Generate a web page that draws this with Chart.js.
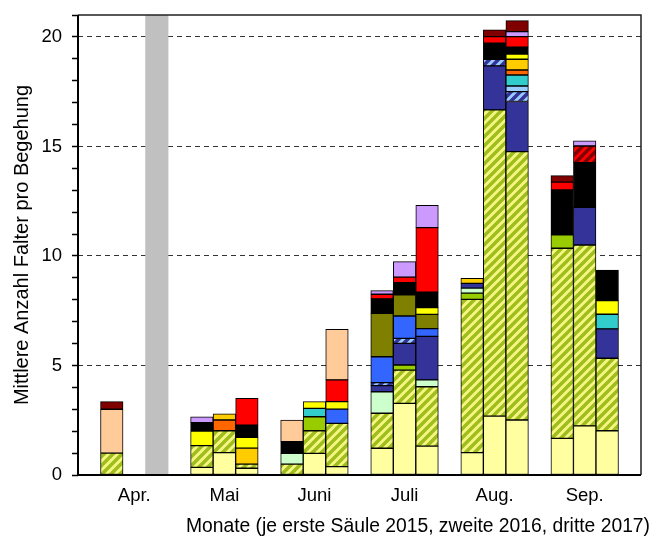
<!DOCTYPE html>
<html><head><meta charset="utf-8">
<script src="https://cdn.jsdelivr.net/npm/chart.js@4.4.1/dist/chart.umd.min.js"></script>
<style>html,body{margin:0;padding:0;background:#fff;}</style>
</head><body>
<canvas id="c" width="663" height="540" style="width:663px;height:540px;display:block"></canvas>
<script>
// Categories
const months = ['Apr.', 'Mai', 'Juni', 'Juli', 'Aug.', 'Sep.'];
const years = ['2015', '2016', '2017'];
const yTickLabels = [0, 5, 10, 15, 20];
const yMax = 21;
const xTitle = 'Monate (je erste Säule 2015, zweite 2016, dritte 2017)';
const yTitle = 'Mittlere Anzahl Falter pro Begehung';

// Values per segment type, order: Apr 15/16/17, Mai 15/16/17, Juni ..., Juli ..., Aug ..., Sep ...
const plain      = [0,0,0,   0.35,1.02,0.31, 0,0.99,0.38,    1.22,3.27,1.32,  1.02,2.69,2.51,   1.67,2.24,2.02];
const hatched    = [1.0,0,0, 0.99,1.0,0.19,  0.5,1.03,1.98,  1.60,1.52,2.71,  7.0,13.98,12.25,  8.68,8.26,3.31];
const lime       = [0,0,0,   0,0,0,          0,0.64,0,       0,0.23,0,        0.28,0,0,         0.61,0,0];
const mint       = [0,0,0,   0,0,0,          0.49,0,0,       0.98,0,0.31,     0.23,0,0,         0,0,0];
const navy       = [0,0,0,   0,0,0,          0,0,0,          0.28,0.99,1.99,  0.22,2.01,2.29,   0,1.72,1.34];
const blueHatch  = [0,0,0,   0,0,0,          0,0,0,          0.14,0.23,0,     0,0.30,0.45,      0,0,0];
const blue       = [0,0,0,   0,0,0,          0,0,0.65,       1.18,1.02,0.35,  0,0,0,            0,0,0];
const lightBlue  = [0,0,0,   0,0,0,          0,0,0,          0,0,0,           0,0,0.26,         0,0,0];
const teal       = [0,0,0,   0,0,0,          0,0.38,0,       0,0,0,           0,0,0.50,         0,0,0.67];
const olive      = [0,0,0,   0,0,0,          0,0,0,          1.98,0.96,0.65,  0,0,0,            0,0,0];
const orange     = [0,0,0,   0,0.49,0,       0,0,0,          0,0,0,           0,0,0.23,         0,0,0];
const gold       = [0,0,0,   0,0.28,0.73,    0,0,0,          0,0,0,           0.23,0,0.49,      0,0,0];
const yellow     = [0,0,0,   0.67,0,0.49,    0,0.31,0.34,    0,0,0.31,        0,0,0.24,         0,0,0.62];
const black      = [0,0,0,   0.38,0,0.56,    0.53,0,0,       0.66,0.56,0.71,  0,0.73,0.31,      2.05,2.04,1.40];
const red        = [0,0,0,   0,0,1.22,       0,0,0.99,       0.21,0.25,2.94,  0,0.30,0.48,      0.36,0,0];
const redHatch   = [0,0,0,   0,0,0,          0,0,0,          0,0,0,           0,0,0,            0,0.76,0];
const peach      = [2.0,0,0, 0,0,0,          0.99,0,2.31,    0,0,0,           0,0,0,            0,0,0];
const purple     = [0,0,0,   0.27,0,0,       0,0,0,          0.17,0.71,1.02,  0,0,0.23,         0,0.24,0];
const darkRed    = [0.35,0,0,0,0,0,          0,0,0,          0,0,0,           0,0.31,0.50,      0.30,0,0];
const noSurvey   = [0,0,21,  0,0,0,          0,0,0,          0,0,0,           0,0,0,            0,0,0];

function hatch(bg, fg) {
  const s = 9, c = document.createElement('canvas');
  c.width = s; c.height = s;
  const g = c.getContext('2d');
  g.fillStyle = bg; g.fillRect(0, 0, s, s);
  g.strokeStyle = fg; g.lineWidth = 3.5;
  g.beginPath();
  g.moveTo(-2, s + 2); g.lineTo(s + 2, -2);
  g.moveTo(-2, 2); g.lineTo(2, -2);
  g.moveTo(s - 2, s + 2); g.lineTo(s + 2, s - 2);
  g.stroke();
  return document.getElementById('c').getContext('2d').createPattern(c, 'repeat');
}

// 25 slots: leading gap, then per month 3 bars + 1 gap
const nSlots = months.length * 4 + 1;
const labels = [];
for (let i = 0; i < nSlots; i++) labels.push('');
months.forEach((m, k) => { labels[4 * k + 2] = m; });
function toSlots(arr) {
  const out = new Array(nSlots).fill(null);
  arr.forEach((v, i) => {
    const m = Math.floor(i / years.length), y = i % years.length;
    out[4 * m + 1 + y] = v > 0 ? v : null;
  });
  return out;
}

const series = [
  ['plain', plain, '#ffffa0'],
  ['hatched', hatched, hatch('#f6f682', '#9fbd1c')],
  ['lime', lime, '#99cc00'],
  ['mint', mint, '#ccffcc'],
  ['navy', navy, '#333399'],
  ['blueHatch', blueHatch, hatch('#99ccff', '#333399')],
  ['blue', blue, '#3366ff'],
  ['lightBlue', lightBlue, '#99ccff'],
  ['teal', teal, '#33cccc'],
  ['olive', olive, '#808000'],
  ['orange', orange, '#ff6600'],
  ['gold', gold, '#ffcc00'],
  ['yellow', yellow, '#ffff00'],
  ['black', black, '#000000'],
  ['red', red, '#ff0000'],
  ['redHatch', redHatch, hatch('#ff0000', '#800000')],
  ['peach', peach, '#ffcc99'],
  ['purple', purple, '#cc99ff'],
  ['darkRed', darkRed, '#800000']
];

const datasets = series.map(([name, arr, col]) => ({
  label: name, data: toSlots(arr), backgroundColor: col,
  borderColor: '#000', borderWidth: 1, borderSkipped: false,
  stack: 's', barPercentage: 1, categoryPercentage: 1
}));
datasets.push({
  label: 'keine Begehung', data: toSlots(noSurvey), backgroundColor: '#c0c0c0',
  borderWidth: 0, stack: 's', barPercentage: 1, categoryPercentage: 1
});

const FONT = '"Liberation Sans", Arial, sans-serif';

const framePlugin = {
  id: 'frame',
  afterDatasetsDraw(chart) {
    const {ctx, chartArea: a} = chart;
    ctx.save();
    ctx.strokeStyle = '#222'; ctx.lineWidth = 1.5;
    ctx.beginPath();
    ctx.moveTo(a.left, a.top); ctx.lineTo(a.right, a.top); ctx.lineTo(a.right, a.bottom);
    ctx.stroke();
    ctx.strokeStyle = '#000'; ctx.lineWidth = 2;
    ctx.beginPath();
    ctx.moveTo(a.left, a.top); ctx.lineTo(a.left, a.bottom); ctx.lineTo(a.right, a.bottom);
    ctx.stroke();
    ctx.restore();
  },
  afterDraw(chart) {
    const {ctx, chartArea: a} = chart;
    ctx.save();
    ctx.fillStyle = '#000';
    ctx.font = '19.3px ' + FONT;
    ctx.textAlign = 'right'; ctx.textBaseline = 'middle';
    ctx.fillText(xTitle, 650, 527);
    ctx.font = '20px ' + FONT;
    ctx.translate(22, (a.top + a.bottom) / 2);
    ctx.rotate(-Math.PI / 2);
    ctx.textAlign = 'center';
    ctx.fillText(yTitle, 0, 0);
    ctx.restore();
  }
};

new Chart(document.getElementById('c'), {
  type: 'bar',
  data: { labels, datasets },
  options: {
    responsive: false, animation: false, devicePixelRatio: 1,
    layout: { padding: { top: 15, right: 22, left: 0, bottom: 0 } },
    plugins: { legend: { display: false }, tooltip: { enabled: false } },
    scales: {
      x: {
        stacked: true,
        grid: { display: false, drawTicks: false },
        border: { display: false },
        ticks: { autoSkip: false, maxRotation: 0, minRotation: 0, color: '#000',
                 font: { family: FONT, size: 18.5 }, padding: 10 },
        afterFit(s) { s.height = 65; s.paddingLeft = 0; s.paddingRight = 0; }
      },
      y: {
        stacked: true, min: 0, max: yMax,
        ticks: { stepSize: 1, autoSkip: false, color: '#000', font: { family: FONT, size: 18.5 }, padding: 10,
                 callback: v => yTickLabels.includes(v) ? String(v) : '' },
        grid: {
          color: c => (c.tick && yTickLabels.includes(c.tick.value) && c.tick.value > 0) ? '#333' : 'rgba(0,0,0,0)',
          lineWidth: 1, tickColor: '#000', tickLength: 6, tickWidth: 1.5, tickBorderDash: []
        },
        border: { display: false, dash: [5, 4] },
        afterFit(s) { s.width = 78; s.paddingTop = 0; s.paddingBottom = 0; }
      }
    }
  },
  plugins: [framePlugin]
});
</script>
</body></html>
